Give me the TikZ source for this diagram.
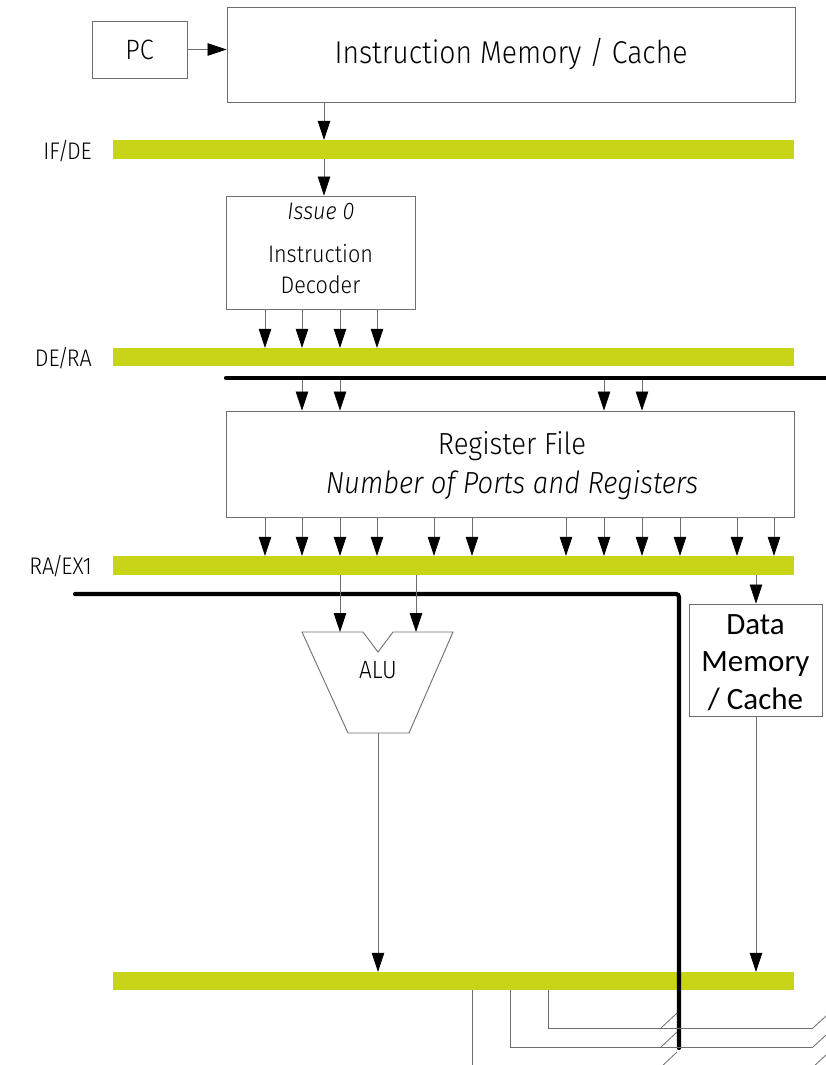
\documentclass[tikz,border=0pt]{standalone}
\usepackage{fontspec}
\setmainfont{Fira Sans}[UprightFont=* Light, ItalicFont=* Light Italic, FakeStretch=0.9]
\newfontfamily\calib{Carlito}
\usetikzlibrary{arrows.meta}
\definecolor{stagebar}{RGB}{200,212,24}
\definecolor{boxline}{RGB}{110,110,110}
\newcommand\stsep{\kern-2pt/\kern-2pt}
\begin{document}
\begin{tikzpicture}[x=1pt,y=-1pt,
  blk/.style={draw=boxline,line width=0.9pt,minimum width=#1,inner sep=0pt,align=center},
  latch/.style={fill=stagebar,minimum width=681pt,minimum height=19pt,inner sep=0pt},
  lbl/.style={anchor=east,font=\fontsize{24}{26}\selectfont,inner sep=0pt},
  arr/.style={draw=boxline,line width=0.8pt,-{Triangle[length=19pt,width=12.5pt,fill=black,color=black]}},
  wire/.style={draw=boxline,line width=0.8pt},
  bus/.style={line width=4.2pt,line cap=round,rounded corners=3pt}]
\useasboundingbox (0,0) rectangle (825,1065);

% fetch
\node[blk=95pt,minimum height=57pt,font=\fontsize{28}{30}\selectfont] (pc) at (139.5,49.5) {PC};
\node[blk=568pt,minimum height=95pt,font=\fontsize{31.5}{34}\selectfont] (imem) at (511,54.5) {Instruction Memory / Cache};
\draw[arr] (pc.east) -- (imem.west |- pc.east);

% pipeline latches
\node[latch] (ifde) at (453.5,149.5) {};
\node[latch,minimum height=18pt] (dera) at (453.5,357) {};
\node[latch] (raex) at (453.5,565.5) {};
\node[latch,minimum height=18pt] (wb) at (453.5,981) {};
\node[lbl] (ifdel) at (92,151) {IF\stsep DE};
\node[lbl] (deral) at (92,358) {DE\stsep RA};
\node[lbl] (raexl) at (92,566) {RA\stsep EX1};

% decode
\node[blk=189pt,minimum height=113pt] (dec) at (320.5,252.5) {};
\node[font=\fontsize{24}{26}\selectfont\itshape] (iss) at (321,211) {Issue 0};
\node[font=\fontsize{24}{31}\selectfont,align=center] (decl) at (320.5,269) {Instruction\\Decoder};
\draw[arr] (324,0 |- imem.south) -- (324,0 |- ifde.north);
\draw[arr] (324,0 |- ifde.south) -- (324,0 |- dec.north);
\foreach \x in {265,302,340,377}
  \draw[arr] (\x,0 |- dec.south) -- (\x,0 |- dera.north);

% register file
\draw[bus] (226,378) -- (830,378);
\node[blk=568pt,minimum height=106pt] (rf) at (510,464) {};
\node[font=\fontsize{30.5}{39}\selectfont,align=center] (rfl) at (512,466) {Register File\\\itshape Number of Ports and Registers};
\foreach \x in {302,340,604,642}
  \draw[arr] (\x,380) -- (\x,0 |- rf.north);
\foreach \x in {265,302,340,377,434,472,566,604,642,680,737,774}
  \draw[arr] (\x,0 |- rf.south) -- (\x,0 |- raex.north);

% execute
\draw[bus] (75,594) -- (679,594) -- (679,1048);
\coordinate (alutl) at (302,632);
\coordinate (alutr) at (453,632);
\draw[draw=boxline,line width=0.9pt] (alutl) -- (363,632) -- (378,652) -- (393,632) -- (alutr) -- (409,733) -- (348,733) -- cycle;
\node[font=\fontsize{25}{27}\selectfont] (alu) at (378,670) {ALU};
\coordinate (aluout) at (378,733);
\draw[arr] (340,0 |- raex.south) -- (340,632);
\draw[arr] (416,0 |- raex.south) -- (416,632);
\draw[arr] (aluout) -- (aluout |- wb.north);

% data memory
\node[blk=133pt,minimum height=112pt,font=\calib\fontsize{31}{37.5}\selectfont] (dmem) at (755.5,660) {};
\node[font=\calib\fontsize{31}{37.5}\selectfont,align=center] (dmeml) at (755.5,662.5) {Data\\Memory\\/ Cache};
\draw[arr] (756,0 |- raex.south) -- (dmem.north -| 756,0);
\draw[arr] (dmem.south -| 756,0) -- (756,0 |- wb.north);

% write-back wires
\draw[wire] (472,0 |- wb.south) -- (472,1067) -- (830,1067);
\draw[wire] (510,0 |- wb.south) -- (510,1047) -- (813,1047);
\draw[wire] (548,0 |- wb.south) -- (548,1028) -- (813,1028);
\foreach \y in {1028,1047,1067} {
  \draw[wire] (661,\y) -- ++(16,-15);
  \draw[wire] (813,\y) -- ++(13,-12);
}
\end{tikzpicture}
\end{document}
